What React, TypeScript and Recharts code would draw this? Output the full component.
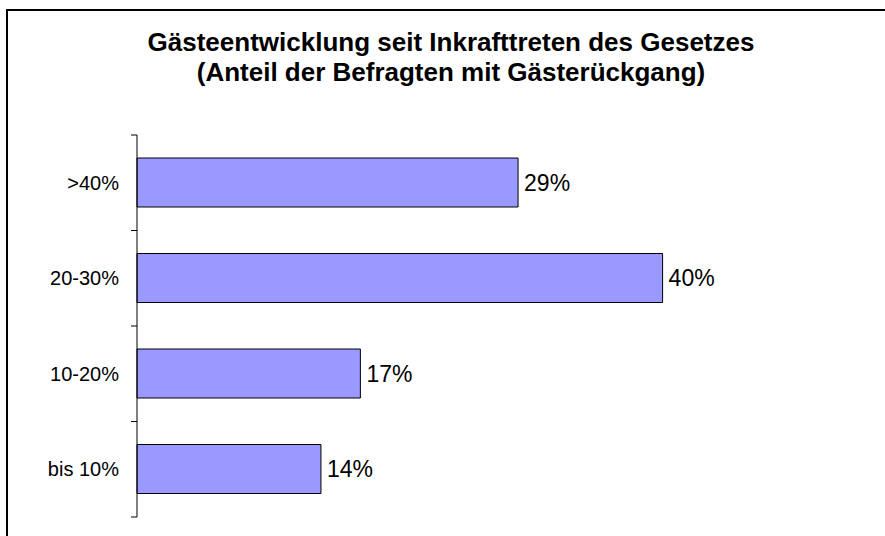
import { BarChart, Bar, XAxis, YAxis, LabelList } from "recharts";

const categories = [">40%", "20-30%", "10-20%", "bis 10%"];
const shares = [29, 40, 17, 14];

const titleLines = [
  "Gästeentwicklung seit Inkrafttreten des Gesetzes",
  "(Anteil der Befragten mit Gästerückgang)",
];

const data = categories.map((name, i) => ({ name, value: shares[i] }));

const FONT = "'Liberation Sans', Arial, sans-serif";

// label left of the axis, tick marks on the band edges (Excel style)
function CategoryTick(props: any) {
  const { x, y, payload, index } = props;
  const half = payload.offset || 0;
  const last = index === categories.length - 1;
  return (
    <g>
      <line x1={x - 6} x2={x} y1={y - half} y2={y - half} stroke="#000" />
      {last && <line x1={x - 6} x2={x} y1={y + half} y2={y + half} stroke="#000" />}
      <text
        x={x - 18}
        y={y}
        dy="0.355em"
        textAnchor="end"
        fill="#000"
        fontSize={20}
        fontFamily={FONT}
      >
        {payload.value}
      </text>
    </g>
  );
}

export default function App() {
  return (
    <div
      style={{
        position: "fixed",
        left: 0,
        top: 0,
        width: 885,
        height: 536,
        overflow: "hidden",
        background: "#fff",
        fontFamily: FONT,
      }}
    >
      <div
        style={{
          position: "absolute",
          left: 0,
          top: 27,
          width: 902,
          textAlign: "center",
          fontWeight: "bold",
          fontSize: 26,
          lineHeight: "30px",
          color: "#000",
        }}
      >
        {titleLines.map((t) => (
          <div key={t}>{t}</div>
        ))}
      </div>

      <div style={{ position: "absolute", left: 0, top: 0 }}>
        <BarChart
          width={885}
          height={536}
          data={data}
          layout="vertical"
          margin={{ top: 135, right: 91, bottom: 19, left: 0 }}
        >
          <XAxis type="number" domain={[0, 50]} hide />
          <YAxis
            type="category"
            dataKey="name"
            width={137}
            axisLine={{ stroke: "#000" }}
            tickLine={false}
            tickSize={0}
            tickMargin={0}
            tick={<CategoryTick />}
          />
          <Bar
            dataKey="value"
            fill="#9999FF"
            stroke="#000"
            strokeWidth={1}
            barSize={49}
            isAnimationActive={false}
          >
            <LabelList
              dataKey="value"
              position="right"
              offset={6}
              formatter={(v: number) => `${v}%`}
              style={{ fill: "#000", fontSize: 23, fontFamily: FONT }}
            />
          </Bar>
        </BarChart>
      </div>

      {/* frame, runs off the right and bottom edge */}
      <div
        style={{
          position: "absolute",
          left: 6,
          top: 9,
          width: 900,
          height: 560,
          border: "2px solid #000",
          pointerEvents: "none",
        }}
      />
    </div>
  );
}
